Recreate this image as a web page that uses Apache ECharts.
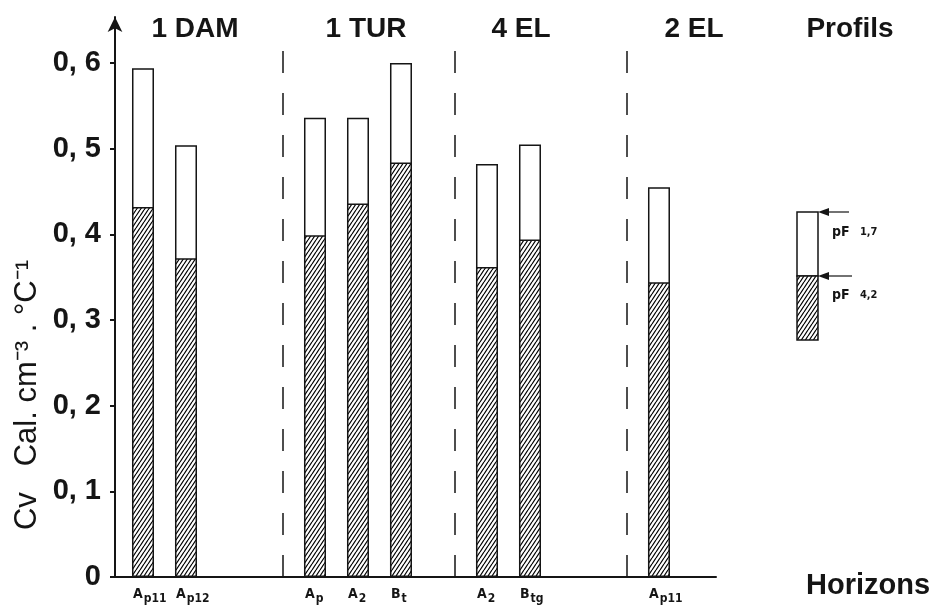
<!DOCTYPE html>
<html>
<head>
<meta charset="utf-8">
<script src="https://cdn.jsdelivr.net/npm/echarts@6/dist/echarts.min.js"></script>
<style>
html,body{margin:0;padding:0;background:#fff;}
#chart{width:936px;height:606px;}
</style>
</head>
<body>
<div id="chart"></div>
<script>
// Horizon slots (blank entries are gaps between soil profiles)
const horizonMain = ['A', 'A', '', '', 'A', 'A', 'B', '', 'A', 'B', '', '', 'A'];
const horizonSub  = ['p11', 'p12', '', '', 'p', '2', 't', '', '2', 'tg', '', '', 'p11'];
// Cv at pF 1,7 (total bar height) and at pF 4,2 (hatched part)
const cvPF17 = [0.594, 0.504, null, null, 0.536, 0.536, 0.600, null, 0.482, 0.505, null, null, 0.455];
const cvPF42 = [0.432, 0.372, null, null, 0.399, 0.436, 0.484, null, 0.362, 0.394, null, null, 0.344];
// Profile groups
const profiles = ['1 DAM', '1 TUR', '4 EL', '2 EL'];
const profileSeparators = [3.26, 7.26, 11.26];
// Y ticks
const yTicks = [0, 0.1, 0.2, 0.3, 0.4, 0.5, 0.6];
const yTickLabels = ['0', '0, 1', '0, 2', '0, 3', '0, 4', '0, 5', '0, 6'];

// hatch pattern
function makeHatch() {
  const w = 4, h = 6;
  const c = document.createElement('canvas');
  c.width = w; c.height = h;
  const g = c.getContext('2d');
  g.fillStyle = '#ffffff';
  g.fillRect(0, 0, w, h);
  g.strokeStyle = '#000000';
  g.lineWidth = 1.2;
  g.beginPath();
  for (let k = -1; k <= 1; k++) {
    g.moveTo(k * w, h);
    g.lineTo(k * w + w, 0);
  }
  g.stroke();
  return c;
}
const hatch = { image: makeHatch(), repeat: 'repeat' };

const ink = '#151515';
const condensed = '"DejaVu Sans Condensed", "Liberation Sans", sans-serif';
const totalData = cvPF17.map((v, i) => v == null ? null : [i, v]).filter(Boolean);
const hatchData = cvPF42.map((v, i) => v == null ? null : [i, v]).filter(Boolean);

const groupX = [195, 366, 521, 694];
const titles = profiles.map((p, i) => ({
  text: p, left: groupX[i], top: 15, padding: 0, textAlign: 'center',
  textStyle: { fontFamily: 'Liberation Sans', fontWeight: 'bold', fontSize: 28, color: ink }
}));
titles.push({ text: 'Profils', left: 850, top: 15, padding: 0, textAlign: 'center',
  textStyle: { fontFamily: 'Liberation Sans', fontWeight: 'bold', fontSize: 28, color: ink } });
titles.push({ text: 'Horizons', left: 868, top: 571, padding: 0, textAlign: 'center',
  textStyle: { fontFamily: 'Liberation Sans', fontWeight: 'bold', fontSize: 29, color: ink } });

const chart = echarts.init(document.getElementById('chart'), null, { renderer: 'canvas' });
chart.setOption({
  backgroundColor: '#ffffff',
  animation: false,
  title: titles,
  grid: { left: 115, right: 220, top: 17, bottom: 29, containLabel: false },
  xAxis: {
    type: 'value', min: -0.651, max: 13.326,
    axisLine: { show: true, onZero: false, lineStyle: { color: ink, width: 2 } },
    axisTick: { show: false }, axisLabel: { show: false }, splitLine: { show: false }
  },
  yAxis: {
    type: 'value', min: 0, max: 0.6537,
    axisLine: { show: true, onZero: false, symbol: ['none', 'arrow'], symbolSize: [11, 15], lineStyle: { color: ink, width: 2 } },
    axisTick: { show: true, length: 5, customValues: yTicks, lineStyle: { color: ink, width: 2 } },
    axisLabel: {
      customValues: yTicks, margin: 14,
      formatter: v => yTickLabels[Math.round(v * 10)],
      fontFamily: 'Liberation Sans', fontWeight: 'bold', fontSize: 29, color: ink
    },
    splitLine: { show: false }
  },
  series: [
    {
      name: 'pF 1,7', type: 'bar', data: totalData, barWidth: 22, barGap: '-100%',
      itemStyle: { color: '#ffffff', borderColor: ink, borderWidth: 1.5 },
      label: {
        show: true, position: 'bottom', distance: 10, align: 'left', offset: [-10, 0],
        formatter: p => '{m|' + horizonMain[p.value[0]] + '}{s|' + horizonSub[p.value[0]] + '}',
        rich: {
          m: { fontFamily: condensed, fontWeight: 'bold', fontSize: 14, color: ink, verticalAlign: 'top', lineHeight: 16 },
          s: { fontFamily: condensed, fontWeight: 'bold', fontSize: 12, color: ink, verticalAlign: 'bottom', lineHeight: 18, padding: [3, 0, 0, 1] }
        }
      },
      markLine: {
        silent: true, symbol: ['none', 'none'], label: { show: false },
        lineStyle: { color: ink, width: 1.5, type: [22, 20] },
        data: profileSeparators.map(x => [{ coord: [x, 0] }, { coord: [x, 0.627] }])
      }
    },
    {
      name: 'pF 4,2', type: 'bar', data: hatchData, barWidth: 22, barGap: '-100%',
      itemStyle: { color: hatch, borderColor: ink, borderWidth: 1.5 }
    }
  ],
  graphic: [
    { type: 'text', x: 27, y: 395, rotation: Math.PI / 2,
      style: { text: 'Cv   Cal. cm\u207B\u00B3 . \u00B0C\u207B\u00B9', fill: ink,
        font: '31px "Liberation Sans"', align: 'center', verticalAlign: 'middle' } },
    { type: 'rect', shape: { x: 797, y: 212, width: 21, height: 64 },
      style: { fill: '#fff', stroke: ink, lineWidth: 1.5 } },
    { type: 'rect', shape: { x: 797, y: 276, width: 21, height: 64 },
      style: { fill: hatch, stroke: ink, lineWidth: 1.5 } },
    { type: 'line', shape: { x1: 849, y1: 212, x2: 826, y2: 212 }, style: { stroke: ink, lineWidth: 1.2 } },
    { type: 'polygon', shape: { points: [[818, 212], [829, 208], [829, 216]] }, style: { fill: ink } },
    { type: 'line', shape: { x1: 852, y1: 276, x2: 826, y2: 276 }, style: { stroke: ink, lineWidth: 1.2 } },
    { type: 'polygon', shape: { points: [[818, 276], [829, 272], [829, 280]] }, style: { fill: ink } },
    { type: 'text', x: 832, y: 232,
      style: { text: '{a|pF}{b|   1,7}', verticalAlign: 'middle',
        rich: { a: { font: 'bold 14px ' + condensed, fill: ink }, b: { font: 'bold 11px ' + condensed, fill: ink } } } },
    { type: 'text', x: 832, y: 295,
      style: { text: '{a|pF}{b|   4,2}', verticalAlign: 'middle',
        rich: { a: { font: 'bold 14px ' + condensed, fill: ink }, b: { font: 'bold 11px ' + condensed, fill: ink } } } }
  ]
});
</script>
</body>
</html>
